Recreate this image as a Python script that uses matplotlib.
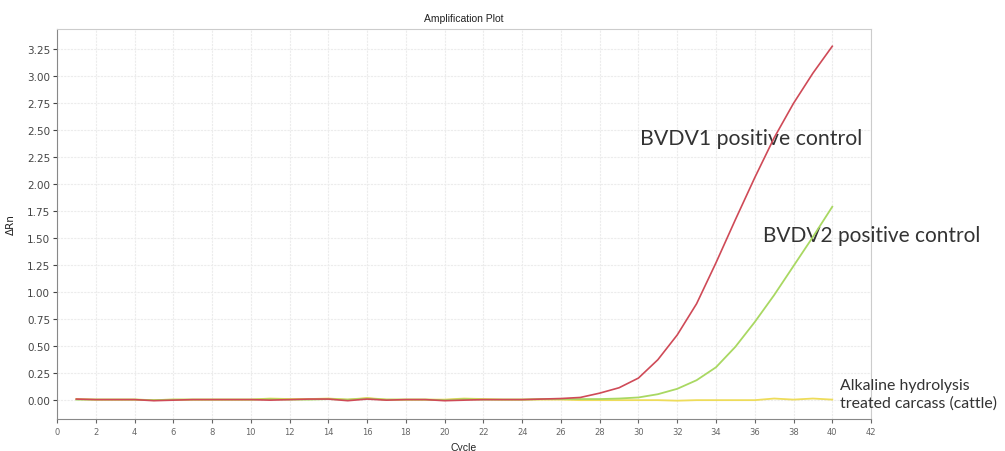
import matplotlib
matplotlib.use("Agg")
import matplotlib.pyplot as plt
import numpy as np

# qPCR amplification curves, delta Rn per cycle
cycles = list(range(1, 41))

bvdv1 = [0.005, 0, 0, 0, -0.01, -0.005, 0, 0, 0, 0,
         -0.005, 0, 0.005, 0.005, -0.01, 0.005, -0.005, 0, 0, -0.01,
         -0.005, 0, 0, 0, 0.005, 0.01, 0.02, 0.06, 0.11, 0.20,
         0.37, 0.60, 0.89, 1.27, 1.67, 2.06, 2.43, 2.75, 3.03, 3.28]

bvdv2 = [0, 0, 0, 0, -0.005, 0, 0, 0, 0, 0,
         0.005, 0, 0, 0.005, 0, 0.01, 0, 0, 0, -0.005,
         0.005, 0, 0, 0, 0.005, 0.005, 0.005, 0.005, 0.01, 0.02,
         0.05, 0.10, 0.18, 0.30, 0.49, 0.72, 0.97, 1.24, 1.51, 1.79]

carcass = [0.005, 0, 0, 0, -0.005, 0, 0, 0, 0, 0,
           0.01, 0.005, 0.005, 0.01, 0, 0.015, 0, 0, 0, 0,
           0.01, 0.005, 0, 0, 0, 0, -0.005, -0.005, -0.005, -0.005,
           -0.005, -0.01, -0.005, -0.005, -0.005, -0.005, 0.01, 0, 0.01, 0]

labels = ["BVDV1 positive control", "BVDV2 positive control",
          "Alkaline hydrolysis\ntreated carcass (cattle)"]

x_ticks = list(range(0, 43, 2))
y_ticks = [i * 0.25 for i in range(14)]

fig = plt.figure(figsize=(10.05, 4.52), dpi=100)
ax = fig.add_axes([0.0567, 0.0708, 0.81, 0.8628])

ax.plot(cycles, carcass, color="#eedc5a", linewidth=1.3, zorder=3)
ax.plot(cycles, bvdv2, color="#a9d862", linewidth=1.3, zorder=4)
ax.plot(cycles, bvdv1, color="#cf4a57", linewidth=1.2, zorder=5)

ax.set_xlim(0, 42)
ax.set_ylim(-0.18, 3.44)
ax.set_xticks(x_ticks)
ax.set_yticks(y_ticks)
ax.set_yticklabels([f"{v:.2f}" for v in y_ticks])
ax.tick_params(axis="x", labelsize=6, colors="#666666", length=3, pad=3)
ax.tick_params(axis="y", labelsize=7.5, colors="#444444", length=3, pad=2)
ax.grid(True, color="#ececec", linewidth=0.8, linestyle=(0, (2, 1)))

for side in ("left", "bottom"):
    ax.spines[side].set_color("#888888")
for side in ("top", "right"):
    ax.spines[side].set_color("#cccccc")

ax.set_title("Amplification Plot", fontsize=7.5, color="#222222", pad=6,
             family="Liberation Sans")
ax.set_xlabel("Cycle", fontsize=7.5, color="#222222", labelpad=4,
              family="Liberation Sans")
ax.set_ylabel("ΔRn", fontsize=7.5, color="#222222", labelpad=8)

txt = dict(family="Lato", weight="normal", color="#333333", clip_on=False)
ax.text(30.08, 2.43, labels[0], fontsize=15.3, va="center", ha="left", **txt)
ax.text(36.43, 1.53, labels[1], fontsize=15.0, va="center", ha="left", **txt)
ax.text(40.4, 0.056, labels[2], fontsize=11.4, va="center", ha="left",
        linespacing=1.3, **txt)

fig.savefig("out.png", dpi=100)
